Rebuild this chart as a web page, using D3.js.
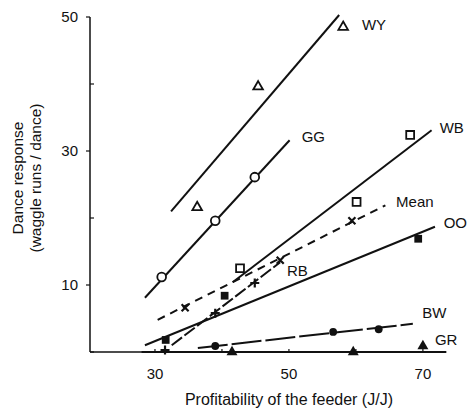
<!DOCTYPE html>
<html>
<head>
<meta charset="utf-8">
<script src="https://cdn.jsdelivr.net/npm/d3@7"></script>
<style>
  body { margin: 0; background: #fff; }
  text { font-family: "Liberation Sans", Arial, sans-serif; fill: #111; }
</style>
</head>
<body>
<div id="chart"></div>
<script>
(function(){

    // colonies, in drawing order
    var colonies = ["WY", "GG", "WB", "Mean", "OO", "RB", "BW", "GR"];

    // measured points: profitability (J/J) and dance response
    var wyX = [36.3, 45.4, 58.1],   wyY = [21.6, 39.6, 48.5];
    var ggX = [31.0, 39.0, 44.9],   ggY = [11.2, 19.6, 26.1];
    var wbX = [42.7, 60.1, 68.1],   wbY = [12.5, 22.4, 32.4];
    var meanX = [34.5, 48.7, 59.4], meanY = [6.6, 13.7, 19.6];
    var ooX = [31.6, 40.4, 69.3],   ooY = [1.8, 8.4, 16.9];
    var rbX = [31.5, 39.0, 44.9],   rbY = [0.3, 5.8, 10.3];
    var bwX = [39.0, 56.6, 63.4],   bwY = [0.9, 3.0, 3.4];
    var grX = [41.5, 59.6, 70.0],   grY = [0.0, 0.0, 0.9];

    // fitted lines: [x start, y start, x end, y end]
    var wyFit = [32.4, 21.0, 57.5, 50.3];
    var ggFit = [28.5, 8.1, 50.1, 31.6];
    var wbFit = [41.6, 10.4, 71.3, 33.1];
    var meanFit = [30.4, 4.8, 64.4, 21.9];
    var ooFit = [28.5, 1.0, 71.8, 18.7];
    var rbFit = [32.5, 1.0, 48.7, 13.4];
    var bwFit = [36.4, 0.6, 68.5, 4.2];
    var grFit = [28.0, 0.0, 73.5, 0.0];

    // where each name sits (data units: left x, middle y)
    var labelX = [60.9, 51.9, 72.5, 66.0, 73.1, 49.7, 69.9, 71.8];
    var labelY = [48.8, 32.1, 33.4, 22.4, 19.3, 12.2, 5.8, 1.8];

    var xTicks = [30, 40, 50, 60, 70];
    var xTickLabels = [30, 50, 70];
    var yTicks = [0, 10, 20, 30, 40, 50];
    var yTickLabels = [10, 30, 50];

    var pointsX = [wyX, ggX, wbX, meanX, ooX, rbX, bwX, grX];
    var pointsY = [wyY, ggY, wbY, meanY, ooY, rbY, bwY, grY];
    var fits = [wyFit, ggFit, wbFit, meanFit, ooFit, rbFit, bwFit, grFit];

    var markers = {
        WY:   {type: "triangle", open: true},
        GG:   {type: "circle", open: true},
        WB:   {type: "square", open: true},
        Mean: {type: "times"},
        OO:   {type: "square", open: false},
        RB:   {type: "plus"},
        BW:   {type: "circle", open: false},
        GR:   {type: "triangle", open: false}
    };
    var dashes = {Mean: "8,6", RB: "13,3", BW: "30,4"};

    var svg = d3.select("#chart")
                .append("svg")
                .attr("width", 470)
                .attr("height", 414);

    var x = d3.scaleLinear().domain([20.3, 73.3]).range([90, 445]);
    var y = d3.scaleLinear().domain([0, 50]).range([352, 17]);

    // axes
    svg.append("line")
       .attr("x1", x(20.3)).attr("x2", x(20.3))
       .attr("y1", y(0)).attr("y2", y(50))
       .attr("stroke", "#111").attr("stroke-width", 1.5);

    svg.append("line")
       .attr("x1", x(20.3)).attr("x2", x(73.3))
       .attr("y1", y(0)).attr("y2", y(0))
       .attr("stroke", "#111").attr("stroke-width", 1.5);

    for (var t of yTicks) {
        var major = yTickLabels.indexOf(t) >= 0;
        svg.append("line")
           .attr("x1", x(20.3) + (major ? -4 : 0))
           .attr("x2", x(20.3) + (major ? 0 : 4))
           .attr("y1", y(t)).attr("y2", y(t))
           .attr("stroke", "#111").attr("stroke-width", 1.2);
    }
    for (var t of xTicks) {
        svg.append("line")
           .attr("x1", x(t)).attr("x2", x(t))
           .attr("y1", y(0)).attr("y2", y(0) - 3)
           .attr("stroke", "#111").attr("stroke-width", 1.2);
    }

    for (var t of yTickLabels) {
        svg.append("text")
           .attr("x", 78).attr("y", y(t))
           .attr("dy", "0.35em")
           .attr("text-anchor", "end")
           .attr("font-size", 15)
           .text(t);
    }
    for (var t of xTickLabels) {
        svg.append("text")
           .attr("x", x(t)).attr("y", 379)
           .attr("text-anchor", "middle")
           .attr("font-size", 15)
           .text(t);
    }

    svg.append("text")
       .attr("x", x(50)).attr("y", 405)
       .attr("text-anchor", "middle")
       .attr("font-size", 16)
       .text("Profitability of the feeder (J/J)");

    var yTitle = svg.append("text")
       .attr("transform", "translate(18,178) rotate(-90)")
       .attr("text-anchor", "middle")
       .attr("font-size", 15.5);
    yTitle.append("tspan").attr("x", 0).attr("dy", "0.35em").text("Dance response");
    yTitle.append("tspan").attr("x", 0).attr("dy", "1.15em").text("(waggle runs / dance)");

    // fitted lines
    colonies.forEach(function(c, i){
        var f = fits[i];
        svg.append("line")
           .attr("x1", x(f[0])).attr("y1", y(f[1]))
           .attr("x2", x(f[2])).attr("y2", y(f[3]))
           .attr("stroke", "#111")
           .attr("stroke-width", 2)
           .attr("stroke-dasharray", dashes[c] || null);
    });

    // markers
    function markerPath(m){
        if (m.type === "plus") return "M-4.5,0H4.5M0,-4.5V4.5";
        if (m.type === "times") return "M-3.5,-3.5L3.5,3.5M-3.5,3.5L3.5,-3.5";
        if (m.type === "triangle") return d3.symbol(d3.symbolTriangle, m.open ? 40 : 52)();
        if (m.type === "circle") return d3.symbol(d3.symbolCircle, m.open ? 60 : 48)();
        return d3.symbol(d3.symbolSquare, m.open ? 62 : 60)();
    }

    colonies.forEach(function(c, i){
        var m = markers[c];
        var px = pointsX[i], py = pointsY[i];
        for (var k = 0; k < px.length; k++) {
            var p = svg.append("path")
               .attr("d", markerPath(m))
               .attr("transform", "translate(" + x(px[k]) + "," + y(py[k]) + ")");
            if (m.type === "plus" || m.type === "times") {
                p.attr("fill", "none").attr("stroke", "#111").attr("stroke-width", 2.2);
            } else if (m.open) {
                p.attr("fill", "#fff").attr("stroke", "#111").attr("stroke-width", 1.8);
            } else {
                p.attr("fill", "#111");
            }
        }
    });

    // colony names
    colonies.forEach(function(c, i){
        svg.append("text")
           .attr("x", x(labelX[i])).attr("y", y(labelY[i]))
           .attr("dy", "0.35em")
           .attr("font-size", 15)
           .text(c);
    });

})();
</script>
</body>
</html>
